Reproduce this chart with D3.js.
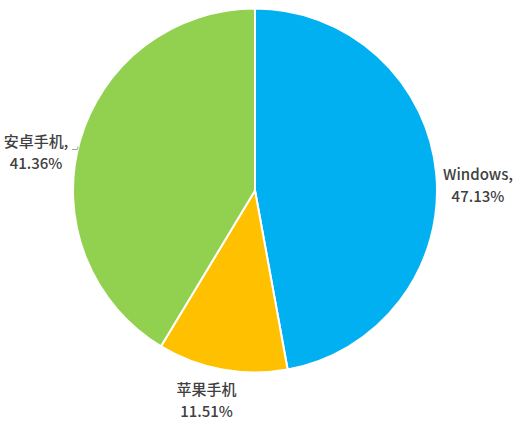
<!DOCTYPE html>
<html><head><meta charset="utf-8">
<script src="https://cdn.jsdelivr.net/npm/d3@7"></script>
<style>body{margin:0;background:#fff;} svg{display:block;}</style>
</head><body>
<svg id="c" width="523" height="424"></svg>
<script>
const categories = ["Windows", "苹果手机", "安卓手机"];
const values = [47.13, 11.51, 41.36];
const colors = ["#00b0f0", "#ffc000", "#92d050"];
const labelLines = [["Windows,", "47.13%"], ["苹果手机", "11.51%"], ["安卓手机,", "41.36%"]];

const svg = d3.select("#c");
const cx = 255, cy = 190.5, r = 182;
const g = svg.append("g").attr("transform", `translate(${cx},${cy})`);
const pie = d3.pie().sort(null).value(d => d)(values);
const arc = d3.arc().innerRadius(0).outerRadius(r);
g.selectAll("path").data(pie).join("path")
  .attr("d", arc)
  .attr("fill", (d, i) => colors[i])
  .attr("stroke", "#fff").attr("stroke-width", 2).attr("stroke-linejoin", "round");

// label placement: outside, offset per slice (center x, first baseline)
const labelPos = [[223, -10.5], [-48.5, 204.5], [-219, -43.5]];
const font = "'Noto Sans CJK SC', 'Noto Sans', sans-serif";
labelLines.forEach((lines, i) => {
  const t = g.append("text").attr("text-anchor", "middle")
    .attr("font-family", font).attr("font-size", 15).attr("font-weight", 500)
    .attr("fill", "#404040");
  lines.forEach((s, j) => {
    t.append("tspan").attr("x", labelPos[i][0]).attr("y", labelPos[i][1] + j * 22).text(s);
  });
});
// leader line for 安卓手机
g.append("path")
  .attr("d", d3.line()([[-183, -41], [-177.5, -41], [-177, -44]]))
  .attr("fill", "none").attr("stroke", "#a6a6a6").attr("stroke-width", 1);
</script>
</body></html>
